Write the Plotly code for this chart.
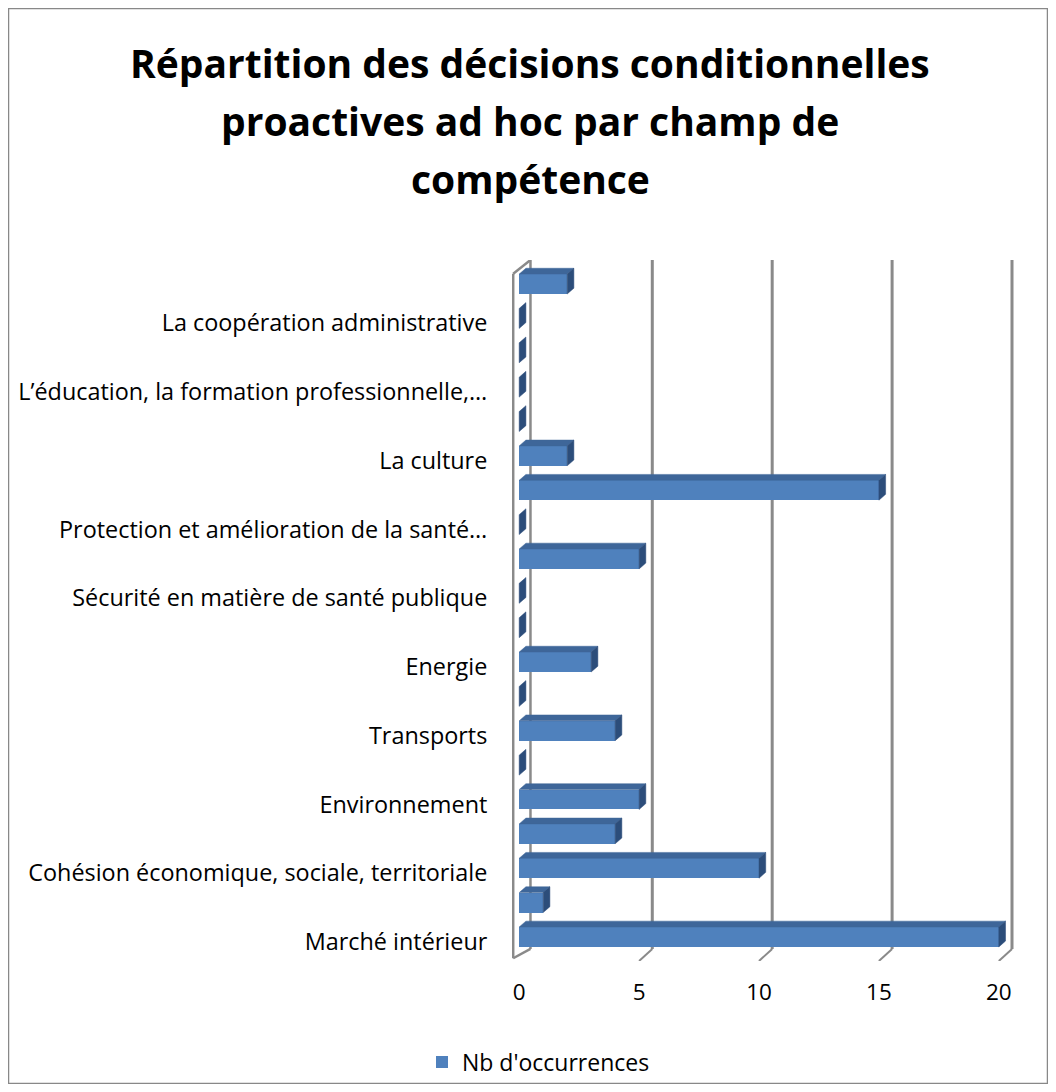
import plotly.graph_objects as go

# ---- data ----
categories = [
    "Marché intérieur",
    "Politique sociale",
    "Cohésion économique, sociale, territoriale",
    "Agriculture et pêche",
    "Environnement",
    "Protection des consommateurs",
    "Transports",
    "Réseaux transeuropéens",
    "Energie",
    "Espace de liberté, de sécurité et de justice",
    "Sécurité en matière de santé publique",
    "Recherche, développement technologique et espace",
    "Protection et amélioration de la santé…",
    "Industrie",
    "La culture",
    "Tourisme",
    "L’éducation, la formation professionnelle,…",
    "Protection civile",
    "La coopération administrative",
    "Autres",
]
values = [20, 1, 10, 4, 5, 0, 4, 0, 3, 0, 0, 5, 0, 15, 2, 0, 0, 0, 0, 2]
shown_label_idx = [0, 2, 4, 6, 8, 10, 12, 14, 16, 18]
x_ticks = [0, 5, 10, 15, 20]
series_name = "Nb d'occurrences"
title_lines = [
    "Répartition des décisions conditionnelles",
    "proactives ad hoc par champ de",
    "compétence",
]

# ---- style ----
FRONT = "#4F81BD"
TOP = "#3E6699"
SIDE = "#2C4D7A"
GRID = "#8A8A8A"
FONT = "Open Sans"
BAR_W = 0.58
DX = 0.28   # depth in x units
DY = 0.17   # depth in y units
BACK_DX = 0.55
BACK_DY = 0.35
LABEL_DROP = 0.14  # labels sit slightly below the bar centres

# page geometry (browser body margin of 8 px is compensated)
OFF = 8
W, H = 1040, 1076
ML, MR, MT, MB = 504, 30, 252, 123
pw, ph = W - ML - MR, H - MT - MB
def px(s): return (s - OFF - ML) / pw
def py(s): return (H - MB - (s - OFF)) / ph

ypos = list(range(len(categories)))
h = BAR_W / 2

fig = go.Figure()
fig.add_trace(go.Bar(
    x=values, y=ypos, orientation="h", width=BAR_W,
    marker=dict(color=FRONT, line=dict(width=0)),
    name=series_name, showlegend=True, hoverinfo="skip",
))

# 3D faces derived from the data values
top_x, top_y, side_x, side_y = [], [], [], []
for yi, v in zip(ypos, values):
    if v > 0:
        top_x += [0, v, v + DX, DX, 0, None]
        top_y += [yi + h, yi + h, yi + h + DY, yi + h + DY, yi + h, None]
    side_x += [v, v, v + DX, v + DX, v, None]
    side_y += [yi - h, yi + h, yi + h + DY, yi - h + DY, yi - h, None]

fig.add_trace(go.Scatter(x=top_x, y=top_y, mode="lines", fill="toself",
                         fillcolor=TOP, line=dict(color=TOP, width=0.5),
                         showlegend=False, hoverinfo="skip"))
fig.add_trace(go.Scatter(x=side_x, y=side_y, mode="lines", fill="toself",
                         fillcolor=SIDE, line=dict(color=SIDE, width=0.5),
                         showlegend=False, hoverinfo="skip"))

y_lo, y_hi = -0.7, 19.7
shapes = []
# back-wall gridlines + floor diagonals
for t in x_ticks[1:]:
    shapes.append(dict(type="line", xref="x", yref="y", x0=t + BACK_DX, x1=t + BACK_DX,
                       y0=y_lo + BACK_DY, y1=y_hi, line=dict(color=GRID, width=3)))
    shapes.append(dict(type="line", xref="x", yref="y", x0=t, x1=t + BACK_DX,
                       y0=y_lo, y1=y_lo + BACK_DY, line=dict(color=GRID, width=2)))
# side wall at x=0
wall = dict(color=GRID, width=2.5)
shapes += [
    dict(type="line", xref="x", yref="y", x0=-0.25, x1=-0.25, y0=y_lo + 0.08, y1=y_hi - 0.4, line=wall),
    dict(type="line", xref="x", yref="y", x0=BACK_DX - 0.08, x1=BACK_DX - 0.08, y0=y_lo + BACK_DY, y1=y_hi, line=wall),
    dict(type="line", xref="x", yref="y", x0=-0.25, x1=BACK_DX - 0.08, y0=y_hi - 0.4, y1=y_hi, line=wall),
    dict(type="line", xref="x", yref="y", x0=-0.25, x1=BACK_DX - 0.08, y0=y_lo + 0.08, y1=y_lo + BACK_DY, line=wall),
]
for s in shapes:
    s["layer"] = "below"

# outer chart border
shapes.append(dict(type="rect", xref="paper", yref="paper",
                   x0=px(8.5), x1=px(1047.5), y0=py(1083.5), y1=py(8.5),
                   line=dict(color="#888888", width=1.5), layer="below"))

# title lines (baselines at ~77, 135, 193 px)
annotations = []
for line, ymid in zip(title_lines, [62, 120, 178]):
    annotations.append(dict(text="<b>" + line + "</b>", xref="paper", yref="paper",
                            x=px(530), y=py(ymid), xanchor="center", yanchor="middle",
                            showarrow=False,
                            font=dict(family=FONT, size=39, color="#000000")))

fig.update_layout(
    width=W, height=H,
    margin=dict(l=ML, r=MR, t=MT, b=MB, autoexpand=False),
    paper_bgcolor="white", plot_bgcolor="rgba(0,0,0,0)",
    font=dict(family=FONT, color="#000000"),
    xaxis=dict(range=[-0.3, 20.8], tickvals=x_ticks, showgrid=False, zeroline=False,
               showline=False, ticks="outside", ticklen=11, tickcolor="rgba(0,0,0,0)",
               tickfont=dict(size=22.5, family=FONT, color="#000000")),
    yaxis=dict(range=[y_lo, y_hi], tickvals=[i - LABEL_DROP for i in shown_label_idx],
               ticktext=[categories[i] for i in shown_label_idx],
               showgrid=False, zeroline=False, showline=False, ticks="outside",
               ticklen=19, tickcolor="rgba(0,0,0,0)",
               tickfont=dict(size=23.4, family=FONT, color="#000000")),
    legend=dict(orientation="h", x=px(422), xanchor="left", y=py(1062), yanchor="middle",
                font=dict(size=23, family=FONT, color="#000000"), bgcolor="rgba(0,0,0,0)"),
    shapes=shapes,
    annotations=annotations,
    bargap=0,
)

fig.write_html("out.html")
